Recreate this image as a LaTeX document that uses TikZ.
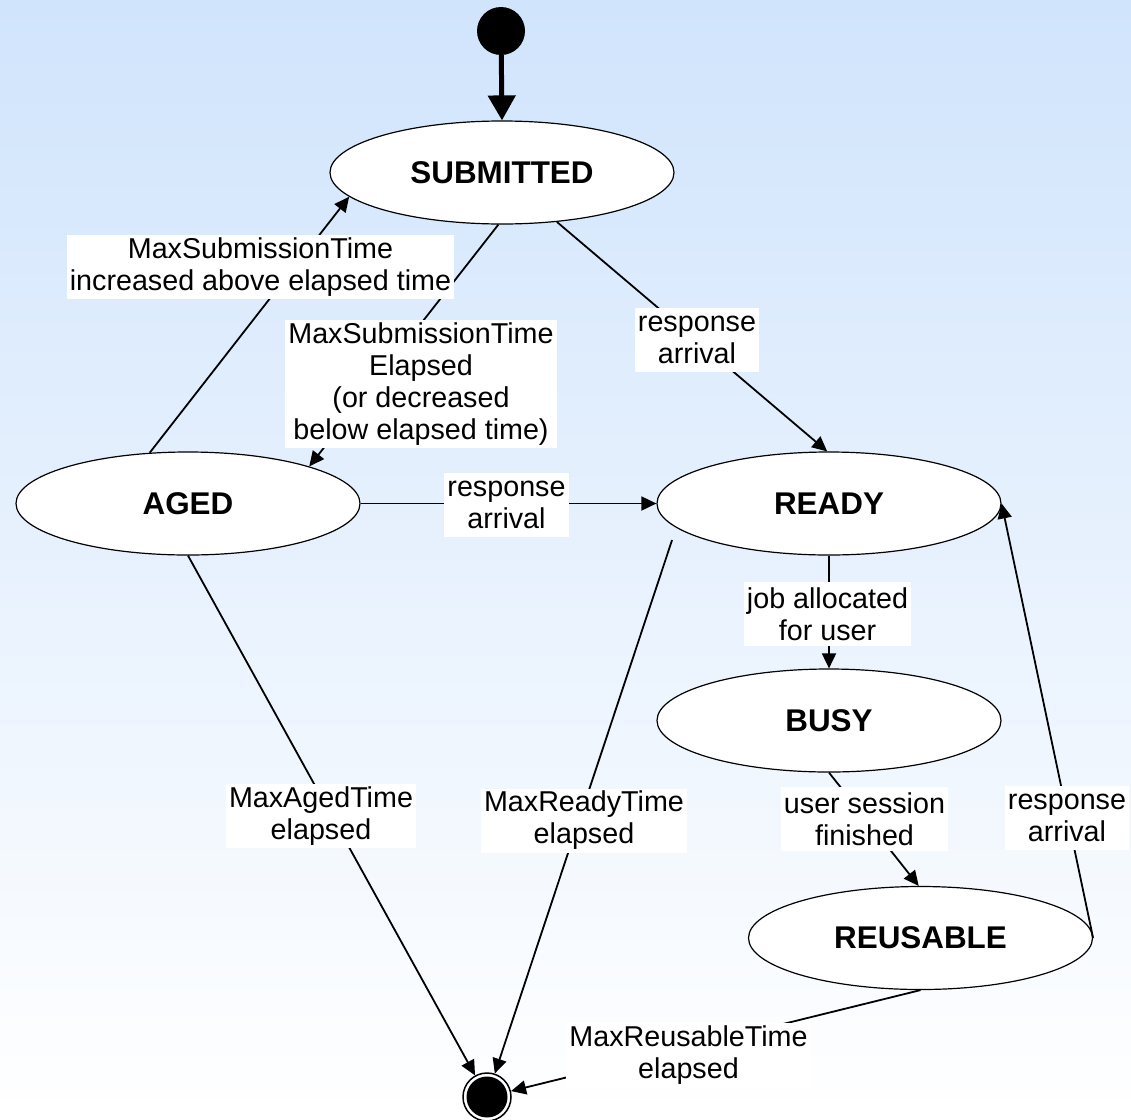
\documentclass[tikz,border=0pt]{standalone}
\usepackage{fontspec}
\setmainfont{Liberation Sans}
\usetikzlibrary{arrows.meta,shapes.geometric}
\definecolor{bgtop}{RGB}{208,228,252}
\begin{document}
\begin{tikzpicture}[x=1pt,y=-1pt,
  state/.style={ellipse,draw,line width=1.2pt,fill=white,minimum width=344pt,minimum height=103pt,inner sep=0pt,font=\fontsize{31.4}{34}\selectfont\bfseries},
  lbl/.style={fill=white,inner xsep=3pt,inner ysep=0pt,align=center,minimum height=64pt,font=\fontsize{28.7}{32}\selectfont},
  edge/.style={line width=1.8pt,-{Triangle[length=15pt,width=14pt]}}]
\useasboundingbox (0,0) rectangle (1131,1119);
\shade[top color=bgtop,bottom color=white] (0,0) rectangle (1131,1119);
% states
\node[circle,fill=black,minimum size=48pt,inner sep=0pt] (init) at (501,31) {};
\node[state] (sub) at (502,172.5) {SUBMITTED};
\node[state] (aged) at (188,503.5) {AGED};
\node[state] (ready) at (829,503.5) {READY};
\node[state] (busy) at (829,720.5) {BUSY};
\node[state] (reus) at (920.5,938) {REUSABLE};
\node[circle,draw,line width=1.5pt,fill=white,minimum size=48pt,inner sep=0pt,
  path picture={\fill[black] (path picture bounding box.center) circle (20.5pt);}] (fin) at (487,1097) {};
% transitions
\draw[line width=5pt,-{Triangle[length=25pt,width=27pt]}] (init) -- (sub.north);
\draw[edge] (aged.127) -- (sub.189);
\draw[edge] (sub.266) -- (aged.17);
\draw[edge] (sub.-42) -- (ready.92);
\draw[edge] (aged.east) -- (ready.west);
\draw[edge] (ready.south) -- (busy.north);
\draw[edge] (busy.south) -- (reus.92);
\draw[edge] (reus.east) -- (ready.east);
\draw[edge] (aged.south) -- (fin);
\draw[edge,shorten <=13pt] (ready.189) -- (fin);
\draw[edge] (reus.south) -- (fin);
% labels
\node[lbl] (l1) at (260.5,267) {MaxSubmissionTime\\increased above elapsed time};
\node[lbl,minimum height=128pt] (l2) at (421,384) {MaxSubmissionTime\\Elapsed\\(or decreased\\below elapsed time)};
\node[lbl] (l3) at (697,339.5) {response\\arrival};
\node[lbl] (l4) at (506.5,505) {response\\arrival};
\node[lbl] (l5) at (827.5,614) {job allocated\\for user};
\node[lbl] (l6) at (864.5,819) {user session\\finished};
\node[lbl] (l7) at (1067,817.5) {response\\arrival};
\node[lbl] (l8) at (321,816) {MaxAgedTime\\elapsed};
\node[lbl] (l9) at (584,820.5) {MaxReadyTime\\elapsed};
\node[lbl] (l10) at (688.5,1055) {MaxReusableTime\\elapsed};
\end{tikzpicture}
\end{document}
